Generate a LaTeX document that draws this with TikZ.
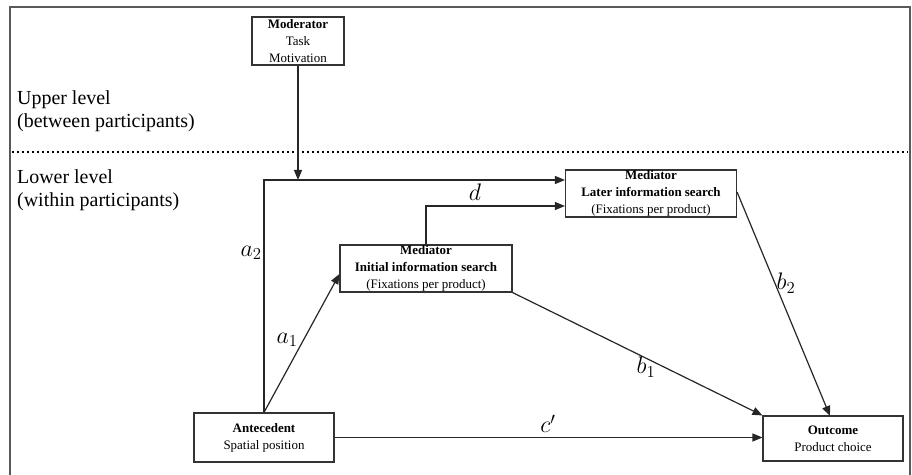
\RequirePackage{fix-cm}
\documentclass[tikz,border=0pt]{standalone}
\usepackage{fontspec}
\setmainfont{Liberation Serif}
\usetikzlibrary{arrows.meta}
\begin{document}
\begin{tikzpicture}[x=1bp,y=-1bp,
  box/.style={draw=black!80,line width=1.1bp,align=center,inner sep=0pt,
    font=\fontsize{13}{17}\selectfont},
  arr/.style={draw=black!85,line width=1.2bp,-{Triangle[length=10bp,width=8bp]}},
  lvl/.style={anchor=west,align=left,inner sep=0pt,font=\fontsize{20}{23}\selectfont},
  lab/.style={inner sep=1bp,font=\fontsize{24}{26}\selectfont}]
\useasboundingbox (0,0) rectangle (912,475);
% frame
\draw[black!65,line width=1.6bp] (10,480) -- (10,7) -- (910,7) -- (910,480);
% dotted separator
\draw[black,line width=2.4bp,dash pattern=on 2.4bp off 2.6bp] (12,152) -- (908,152);
\node[lvl] (up) at (17,111) {Upper level\\(between participants)};
\node[lvl] (low) at (17,190) {Lower level\\(within participants)};
% boxes
\node[box,minimum width=92bp,minimum height=48bp] (mod) at (298,41)
  {\textbf{Moderator}\\Task\\Motivation};
\node[box,minimum width=172bp,minimum height=47bp] (init) at (426,268.5)
  {\textbf{Mediator}\\\textbf{Initial information search}\\(Fixations per product)};
\node[box,minimum width=171bp,minimum height=47bp] (later) at (651,193.5)
  {\textbf{Mediator}\\\textbf{Later information search}\\(Fixations per product)};
\node[box,minimum width=140bp,minimum height=49bp] (ant) at (264,437.5)
  {\textbf{Antecedent}\\Spatial position};
\node[box,minimum width=140bp,minimum height=45bp] (out) at (833,438.5)
  {\textbf{Outcome}\\Product choice};
% coordinates
\coordinate (la) at (later.west |- 0,180);
\coordinate (ld) at (later.west |- 0,206);
\coordinate (ia) at (init.west |- 0,274);
\coordinate (ot) at (830,416);
% connectors
\draw[arr] (ant.north) |- (la);
\draw[arr] (mod.south) -- (mod.south |- la);
\draw[arr] (init.north) |- (ld);
\draw[arr] (ant.north) -- (ia);
\draw[arr] (init.south east) -- (out.north west);
\draw[arr] ([yshift=1.5bp]later.east) -- (ot);
\draw[arr] (ant.east) -- (ant.east -| out.west);
% labels
\node[lab] (la2) at (251,253) {$a_2$};
\node[lab] (la1) at (287,340) {$a_1$};
\node[lab] (ld1) at (475,192) {$d$};
\node[lab] (lb1) at (646,367) {$b_1$};
\node[lab] (lb2) at (786,283) {$b_2$};
\node[lab] (lc) at (548,424) {$c'$};
\end{tikzpicture}
\end{document}
